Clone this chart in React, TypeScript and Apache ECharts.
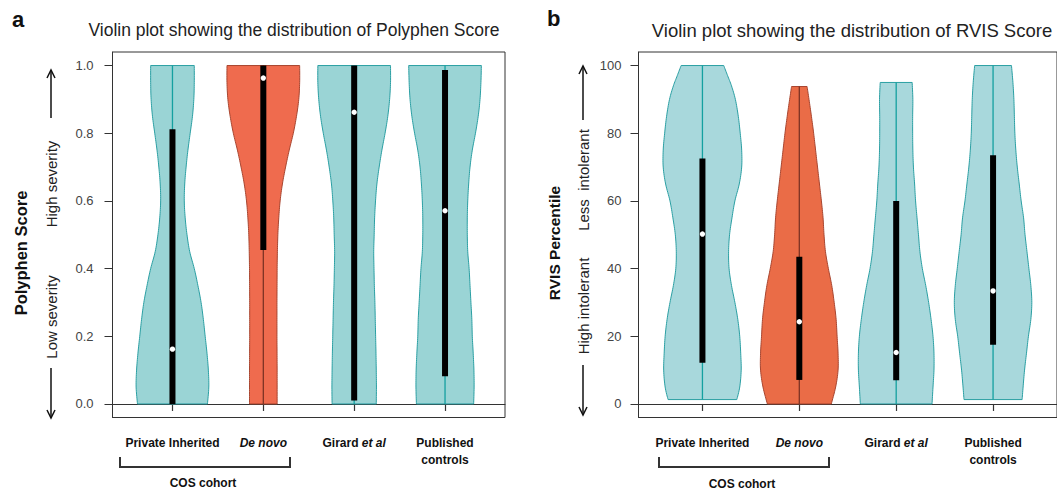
import React, { useEffect, useRef } from "react";
import * as echarts from "echarts";

const FONT = "'Liberation Sans', Arial, Helvetica, sans-serif";

// ---------- shared categories ----------
const categoryLabels = [
  "{b|Private Inherited}",
  "{i|De novo}",
  "{b|Girard }{i|et al}",
  "{b|Published}\n{b|controls}",
];
const positions = [1, 2, 3, 4];

// ---------- panel a : Polyphen score ----------
const polyTicks = [0, 0.2, 0.4, 0.6, 0.8, 1.0];
const polyLevels = [0, 0.05, 0.1, 0.15, 0.2, 0.25, 0.3, 0.35, 0.4, 0.45, 0.5, 0.55, 0.6, 0.65, 0.7, 0.75, 0.8, 0.85, 0.9, 0.95, 1.0];
const polyPrivateWidth = [0.385, 0.4, 0.395, 0.38, 0.36, 0.34, 0.315, 0.28, 0.24, 0.19, 0.16, 0.14, 0.13, 0.135, 0.15, 0.17, 0.195, 0.22, 0.235, 0.24, 0.24];
const polyDeNovoWidth = [0.152, 0.152, 0.152, 0.151, 0.15, 0.15, 0.15, 0.151, 0.152, 0.155, 0.16, 0.17, 0.185, 0.21, 0.245, 0.285, 0.33, 0.365, 0.39, 0.4, 0.4];
const polyGirardWidth = [0.243, 0.245, 0.243, 0.24, 0.236, 0.232, 0.228, 0.222, 0.218, 0.215, 0.22, 0.225, 0.235, 0.25, 0.275, 0.305, 0.34, 0.37, 0.39, 0.4, 0.4];
const polyPublishedWidth = [0.315, 0.32, 0.318, 0.31, 0.3, 0.295, 0.285, 0.275, 0.265, 0.25, 0.245, 0.245, 0.25, 0.26, 0.275, 0.3, 0.335, 0.365, 0.385, 0.395, 0.4];
const polyMin = [0, 0, 0, 0];
const polyMax = [1, 1, 1, 1];
const polyQ1 = [0, 0.455, 0.01, 0.082];
const polyQ3 = [0.812, 1.0, 1.0, 0.987];
const polyMedian = [0.162, 0.963, 0.862, 0.571];

// ---------- panel b : RVIS percentile ----------
const rvisTicks = [0, 20, 40, 60, 80, 100];
const rvisPrivateLevels = [1.3, 5, 10, 15, 20, 25, 30, 35, 40, 45, 50, 55, 60, 65, 70, 75, 80, 85, 90, 94, 97, 100];
const rvisPrivateWidth = [0.355, 0.385, 0.4, 0.395, 0.385, 0.365, 0.335, 0.3, 0.275, 0.27, 0.28, 0.305, 0.335, 0.38, 0.405, 0.405, 0.39, 0.37, 0.34, 0.3, 0.26, 0.22];
const rvisDeNovoLevels = [0, 5, 10, 15, 20, 25, 30, 35, 40, 45, 50, 55, 60, 65, 70, 75, 80, 85, 90, 93.8];
const rvisDeNovoWidth = [0.33, 0.375, 0.4, 0.4, 0.39, 0.38, 0.36, 0.335, 0.3, 0.27, 0.255, 0.245, 0.228, 0.208, 0.188, 0.168, 0.148, 0.125, 0.1, 0.08];
const rvisGirardLevels = [0, 5, 10, 15, 20, 25, 30, 35, 40, 45, 50, 55, 60, 65, 70, 75, 80, 85, 90, 95];
const rvisGirardWidth = [0.37, 0.38, 0.39, 0.39, 0.38, 0.36, 0.335, 0.305, 0.27, 0.245, 0.23, 0.215, 0.2, 0.19, 0.178, 0.172, 0.17, 0.17, 0.172, 0.165];
const rvisPublishedLevels = [1.3, 5, 10, 15, 20, 25, 30, 35, 40, 45, 50, 55, 60, 65, 70, 75, 80, 85, 90, 95, 100];
const rvisPublishedWidth = [0.3, 0.31, 0.325, 0.345, 0.365, 0.39, 0.4, 0.39, 0.37, 0.35, 0.33, 0.315, 0.29, 0.27, 0.25, 0.235, 0.225, 0.22, 0.215, 0.205, 0.19];
const rvisMin = [1.3, 0, 0, 1.3];
const rvisMax = [100, 93.8, 95, 100];
const rvisQ1 = [12.2, 7.1, 7.0, 17.5];
const rvisQ3 = [72.5, 43.5, 60.0, 73.5];
const rvisMedian = [50.2, 24.3, 15.2, 33.4];

// ---------- colours ----------
const fillA = ["#9ad4d5", "#ef6b4e", "#9ad4d5", "#9ad4d5"];
const fillB = ["#a8d8dc", "#ea6c47", "#a8d8dc", "#a8d8dc"];
const borderCols = ["#2a9fa3", "#a8452f", "#2a9fa3", "#2a9fa3"];
const whiskerCols = ["#14a0a0", "#7d3324", "#14a0a0", "#14a0a0"];

function catmull(pts: number[][], seg = 8): number[][] {
  const out: number[][] = [];
  const n = pts.length;
  for (let i = 0; i < n - 1; i++) {
    const p0 = pts[Math.max(i - 1, 0)];
    const p1 = pts[i];
    const p2 = pts[i + 1];
    const p3 = pts[Math.min(i + 2, n - 1)];
    for (let s = 0; s < seg; s++) {
      const t = s / seg;
      const t2 = t * t;
      const t3 = t2 * t;
      out.push(
        [0, 1].map(
          (k) =>
            0.5 *
            (2 * p1[k] +
              (-p0[k] + p2[k]) * t +
              (2 * p0[k] - 5 * p1[k] + 4 * p2[k] - p3[k]) * t2 +
              (-p0[k] + 3 * p1[k] - 3 * p2[k] + p3[k]) * t3)
        )
      );
    }
  }
  out.push(pts[n - 1]);
  return out;
}

function makeViolinRender(
  levels: number[][],
  widths: number[][],
  mins: number[],
  maxs: number[],
  q1: number[],
  q3: number[],
  fills: string[]
) {
  return (params: any, api: any) => {
    const i = params.dataIndex;
    const pos = api.value(0);
    const med = api.value(1);
    const lv = levels[i];
    const wd = widths[i];
    const left = lv.map((y, k) => api.coord([pos - wd[k], y]));
    const right = lv.map((y, k) => api.coord([pos + wd[k], y]));
    const poly = catmull(left).concat(catmull(right).reverse());
    const top = api.coord([pos, maxs[i]]);
    const bot = api.coord([pos, mins[i]]);
    const b3 = api.coord([pos, q3[i]]);
    const b1 = api.coord([pos, q1[i]]);
    const m = api.coord([pos, med]);
    return {
      type: "group",
      children: [
        { type: "polygon", shape: { points: poly }, style: { fill: fills[i], stroke: borderCols[i], lineWidth: 1 } },
        { type: "line", shape: { x1: top[0], y1: top[1], x2: bot[0], y2: bot[1] }, style: { stroke: whiskerCols[i], lineWidth: 1.3 } },
        { type: "rect", shape: { x: b3[0] - 3, y: b3[1], width: 6, height: b1[1] - b3[1] }, style: { fill: "#000" } },
        { type: "circle", shape: { cx: m[0], cy: m[1], r: 2.7 }, style: { fill: "#fff" } },
      ],
    };
  };
}

const labelRich = {
  b: { fontFamily: FONT, fontWeight: "bold", fontSize: 12, lineHeight: 17, color: "#111" },
  i: { fontFamily: FONT, fontWeight: "bold", fontStyle: "italic", fontSize: 12, lineHeight: 17, color: "#111" },
};

function xAxisFor(gridIndex: number) {
  return {
    gridIndex,
    type: "value",
    min: 0.34,
    max: 4.66,
    axisLine: { show: true, lineStyle: { color: "#333", width: 1 } },
    axisTick: { show: true, length: 7, customValues: positions, lineStyle: { color: "#333", width: 1.2 } },
    axisLabel: {
      customValues: positions,
      margin: 17,
      formatter: (v: number) => categoryLabels[Math.round(v) - 1],
      rich: labelRich,
    },
    splitLine: { show: false },
  };
}

function yAxisFor(gridIndex: number, min: number, max: number, ticks: number[], fmt: (v: number) => string, margin: number) {
  return {
    gridIndex,
    type: "value",
    min,
    max,
    axisLine: { show: true, lineStyle: { color: "#333", width: 1 } },
    axisTick: { show: true, length: 8, customValues: ticks, lineStyle: { color: "#333", width: 1 } },
    axisLabel: { customValues: ticks, formatter: fmt, margin, fontSize: 13, color: "#444", fontFamily: FONT },
    splitLine: { show: false },
  };
}

function text(x: number, y: number, s: string, opts: any = {}) {
  return {
    type: "text",
    x,
    y,
    rotation: opts.rotation || 0,
    style: {
      text: s,
      fontFamily: FONT,
      fontSize: opts.fontSize || 12,
      fontWeight: opts.fontWeight || "normal",
      fill: opts.fill || "#111",
      align: opts.align || "center",
      verticalAlign: "middle",
    },
  };
}

function arrow(x: number, yFrom: number, yTo: number) {
  const dir = yTo < yFrom ? 1 : -1;
  return [
    { type: "line", shape: { x1: x, y1: yFrom, x2: x, y2: yTo }, style: { stroke: "#111", lineWidth: 1.5 } },
    {
      type: "polyline",
      shape: { points: [[x - 4, yTo + dir * 8], [x, yTo], [x + 4, yTo + dir * 8]] },
      style: { stroke: "#111", lineWidth: 1.5, fill: null },
    },
  ];
}

function bracket(x1: number, x2: number, yTop: number, yBot: number) {
  return {
    type: "polyline",
    shape: { points: [[x1, yTop], [x1, yBot], [x2, yBot], [x2, yTop]] },
    style: { stroke: "#333", lineWidth: 2, fill: null },
  };
}

export default function App() {
  const ref = useRef<HTMLDivElement>(null);
  useEffect(() => {
    if (!ref.current) return;
    const chart = echarts.init(ref.current, null, { renderer: "svg" });
    const rot = Math.PI / 2;
    const option: any = {
      animation: false,
      backgroundColor: "#fff",
      textStyle: { fontFamily: FONT },
      grid: [
        { left: 112.5, top: 52, width: 392.5, height: 365.5, show: true, borderColor: "#333", borderWidth: 1, backgroundColor: "transparent" },
        { left: 638.5, top: 52, width: 430, height: 365.5, show: true, borderColor: "#333", borderWidth: 1, backgroundColor: "transparent" },
      ],
      xAxis: [xAxisFor(0), xAxisFor(1)],
      yAxis: [
        yAxisFor(0, -0.04, 1.04, polyTicks, (v) => v.toFixed(1), 19),
        yAxisFor(1, -4, 104, rvisTicks, (v) => String(Math.round(v)), 17),
      ],
      series: [
        {
          type: "custom",
          xAxisIndex: 0,
          yAxisIndex: 0,
          data: positions.map((p, i) => [p, polyMedian[i]]),
          renderItem: makeViolinRender(
            [polyLevels, polyLevels, polyLevels, polyLevels],
            [polyPrivateWidth, polyDeNovoWidth, polyGirardWidth, polyPublishedWidth],
            polyMin,
            polyMax,
            polyQ1,
            polyQ3,
            fillA
          ),
        },
        {
          type: "custom",
          xAxisIndex: 1,
          yAxisIndex: 1,
          data: positions.map((p, i) => [p, rvisMedian[i]]),
          renderItem: makeViolinRender(
            [rvisPrivateLevels, rvisDeNovoLevels, rvisGirardLevels, rvisPublishedLevels],
            [rvisPrivateWidth, rvisDeNovoWidth, rvisGirardWidth, rvisPublishedWidth],
            rvisMin,
            rvisMax,
            rvisQ1,
            rvisQ3,
            fillB
          ),
        },
      ],
      graphic: [
        text(12, 19.5, "a", { fontSize: 22, fontWeight: "bold", align: "left" }),
        text(547, 18.5, "b", { fontSize: 22, fontWeight: "bold", align: "left" }),
        text(294, 30, "Violin plot showing the distribution of Polyphen Score", { fontSize: 17.5, fill: "#222" }),
        text(852, 30, "Violin plot showing the distribution of RVIS Score", { fontSize: 18.5, fill: "#222" }),
        text(20.5, 253, "Polyphen Score", { fontSize: 16.5, fontWeight: "bold", rotation: rot }),
        text(554, 243, "RVIS Percentile", { fontSize: 15.5, fontWeight: "bold", rotation: rot }),
        text(51, 184, "High severity", { fontSize: 15, fill: "#222", rotation: rot }),
        text(51, 317, "Low severity", { fontSize: 15, fill: "#222", rotation: rot }),
        text(583, 180, "Less  intolerant", { fontSize: 15, fill: "#222", rotation: rot }),
        text(583, 306, "High intolerant", { fontSize: 15, fill: "#222", rotation: rot }),
        ...arrow(51, 118, 70),
        ...arrow(51, 368, 418),
        ...arrow(583, 120, 66),
        ...arrow(583, 365, 415),
        bracket(120, 290, 457, 467),
        bracket(659, 829, 457, 467),
        text(203, 483, "COS cohort", { fontSize: 12, fontWeight: "bold" }),
        text(742, 484, "COS cohort", { fontSize: 12, fontWeight: "bold" }),
      ],
    };
    chart.setOption(option);
    return () => chart.dispose();
  }, []);
  return (
    <div
      ref={ref}
      style={{ position: "absolute", left: 0, top: 0, width: 1057, height: 490, background: "#fff" }}
    />
  );
}
